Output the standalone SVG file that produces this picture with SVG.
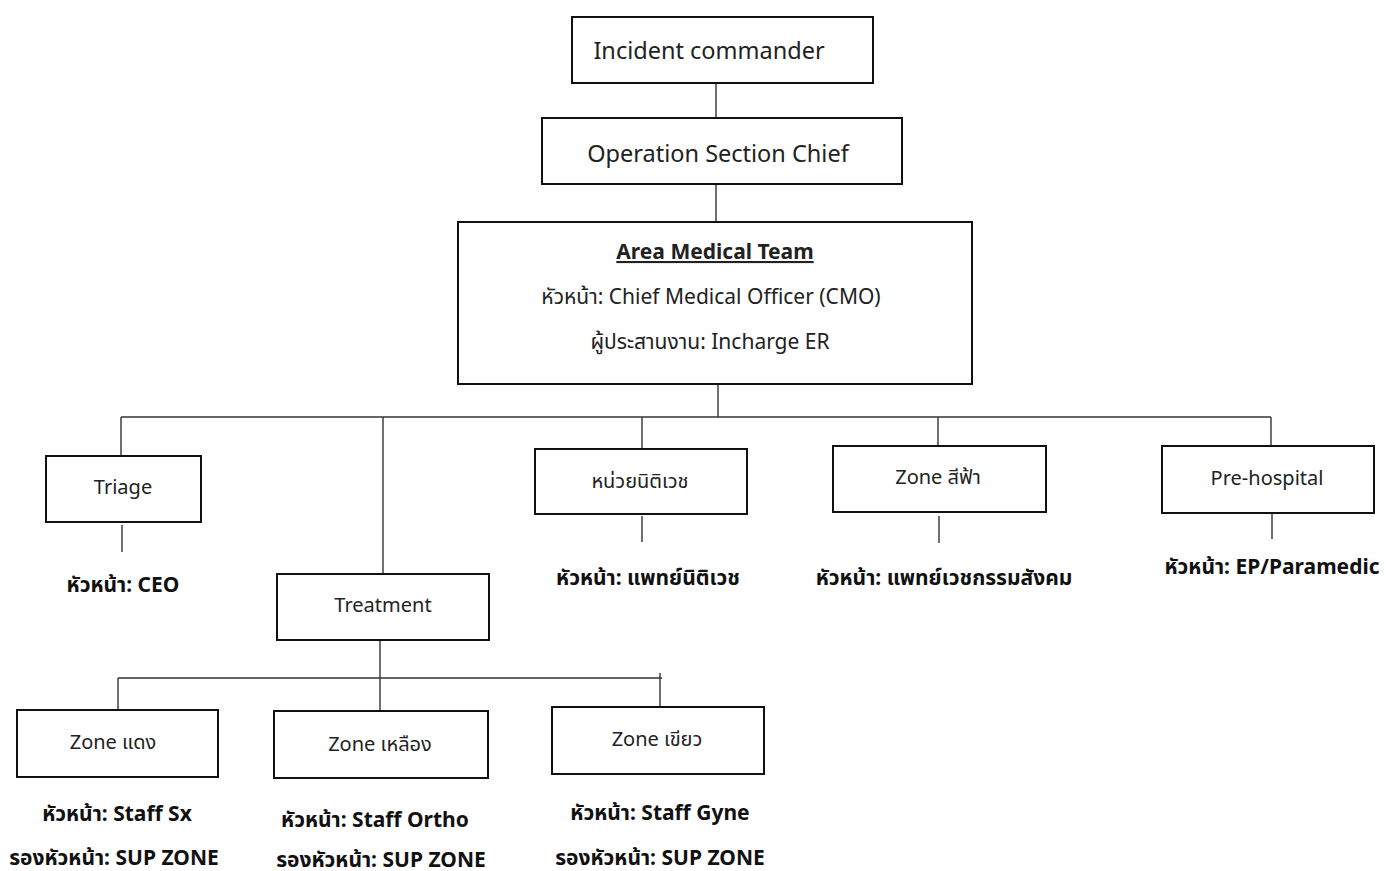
<svg xmlns="http://www.w3.org/2000/svg" width="1386" height="871" viewBox="0 0 1386 871">
  <style>
    .box { fill: #ffffff; stroke: #111111; stroke-width: 2; }
    .link { fill: none; stroke: #333333; stroke-width: 1.4; }
    text { font-family: "Noto Sans", "Noto Sans Thai", "Open Sans", sans-serif; fill: #222222; text-anchor: middle; }
    .big { font-size: 23.5px; }
    .mid { font-size: 20px; }
    .amt { font-size: 21px; }
    .lbl { font-size: 21px; font-weight: bold; fill: #111111; }
    .ttl { font-size: 21px; font-weight: bold; text-decoration: underline; }
  </style>
  <rect width="1386" height="871" fill="#ffffff"/>

  <!-- connectors -->
  <g id="connectors">
    <line class="link" x1="716" y1="83" x2="716" y2="118"/>
    <line class="link" x1="716" y1="184" x2="716" y2="222"/>
    <line class="link" x1="718" y1="384" x2="718" y2="417"/>
    <line class="link" x1="121" y1="417" x2="1271" y2="417"/>
    <line class="link" x1="121" y1="417" x2="121" y2="456"/>
    <line class="link" x1="383" y1="417" x2="383" y2="574"/>
    <line class="link" x1="642" y1="417" x2="642" y2="449"/>
    <line class="link" x1="938" y1="417" x2="938" y2="446"/>
    <line class="link" x1="1271" y1="417" x2="1271" y2="446"/>
    <line class="link" x1="122" y1="525" x2="122" y2="552"/>
    <line class="link" x1="642" y1="516" x2="642" y2="542"/>
    <line class="link" x1="939" y1="516" x2="939" y2="543"/>
    <line class="link" x1="1272" y1="514" x2="1272" y2="539"/>
    <line class="link" x1="380" y1="640" x2="380" y2="711"/>
    <line class="link" x1="118" y1="678" x2="662" y2="678"/>
    <line class="link" x1="118" y1="678" x2="118" y2="710"/>
    <line class="link" x1="660" y1="673" x2="660" y2="707"/>
  </g>

  <g id="incident-commander">
    <rect class="box" x="572" y="17" width="301" height="66"/>
    <text class="big" x="709" y="59">Incident commander</text>
  </g>

  <g id="operation-section-chief">
    <rect class="box" x="542" y="118" width="360" height="66"/>
    <text class="big" x="718" y="162">Operation Section Chief</text>
  </g>

  <g id="area-medical-team">
    <rect class="box" x="458" y="222" width="514" height="162"/>
    <text class="ttl" x="715" y="259">Area Medical Team</text>
    <text class="amt" x="711" y="304">หัวหน้า: Chief Medical Officer (CMO)</text>
    <text class="amt" x="710" y="349">ผู้ประสานงาน: Incharge ER</text>
  </g>

  <g id="triage">
    <rect class="box" x="46" y="456" width="155" height="66"/>
    <text class="mid" x="123" y="494">Triage</text>
    <text class="lbl" x="123" y="592">หัวหน้า: CEO</text>
  </g>

  <g id="treatment">
    <rect class="box" x="277" y="574" width="212" height="66"/>
    <text class="mid" x="383" y="612">Treatment</text>
  </g>

  <g id="forensic-unit">
    <rect class="box" x="535" y="449" width="212" height="65"/>
    <text class="mid" x="640" y="488">หน่วยนิติเวช</text>
    <text class="lbl" x="648" y="585">หัวหน้า: แพทย์นิติเวช</text>
  </g>

  <g id="zone-blue">
    <rect class="box" x="833" y="446" width="213" height="66"/>
    <text class="mid" x="938" y="484">Zone สีฟ้า</text>
    <text class="lbl" x="944" y="585">หัวหน้า: แพทย์เวชกรรมสังคม</text>
  </g>

  <g id="pre-hospital">
    <rect class="box" x="1162" y="446" width="212" height="67"/>
    <text class="mid" x="1267" y="485">Pre-hospital</text>
    <text class="lbl" x="1272" y="574">หัวหน้า: EP/Paramedic</text>
  </g>

  <g id="zone-red">
    <rect class="box" x="17" y="710" width="201" height="67"/>
    <text class="mid" x="113" y="749">Zone แดง</text>
    <text class="lbl" x="117" y="821">หัวหน้า: Staff Sx</text>
    <text class="lbl" x="114" y="865">รองหัวหน้า: SUP ZONE</text>
  </g>

  <g id="zone-yellow">
    <rect class="box" x="274" y="711" width="214" height="67"/>
    <text class="mid" x="380" y="751">Zone เหลือง</text>
    <text class="lbl" x="375" y="827">หัวหน้า: Staff Ortho</text>
    <text class="lbl" x="381" y="867">รองหัวหน้า: SUP ZONE</text>
  </g>

  <g id="zone-green">
    <rect class="box" x="552" y="707" width="212" height="67"/>
    <text class="mid" x="657" y="746">Zone เขียว</text>
    <text class="lbl" x="660" y="820">หัวหน้า: Staff Gyne</text>
    <text class="lbl" x="660" y="865">รองหัวหน้า: SUP ZONE</text>
  </g>
</svg>
